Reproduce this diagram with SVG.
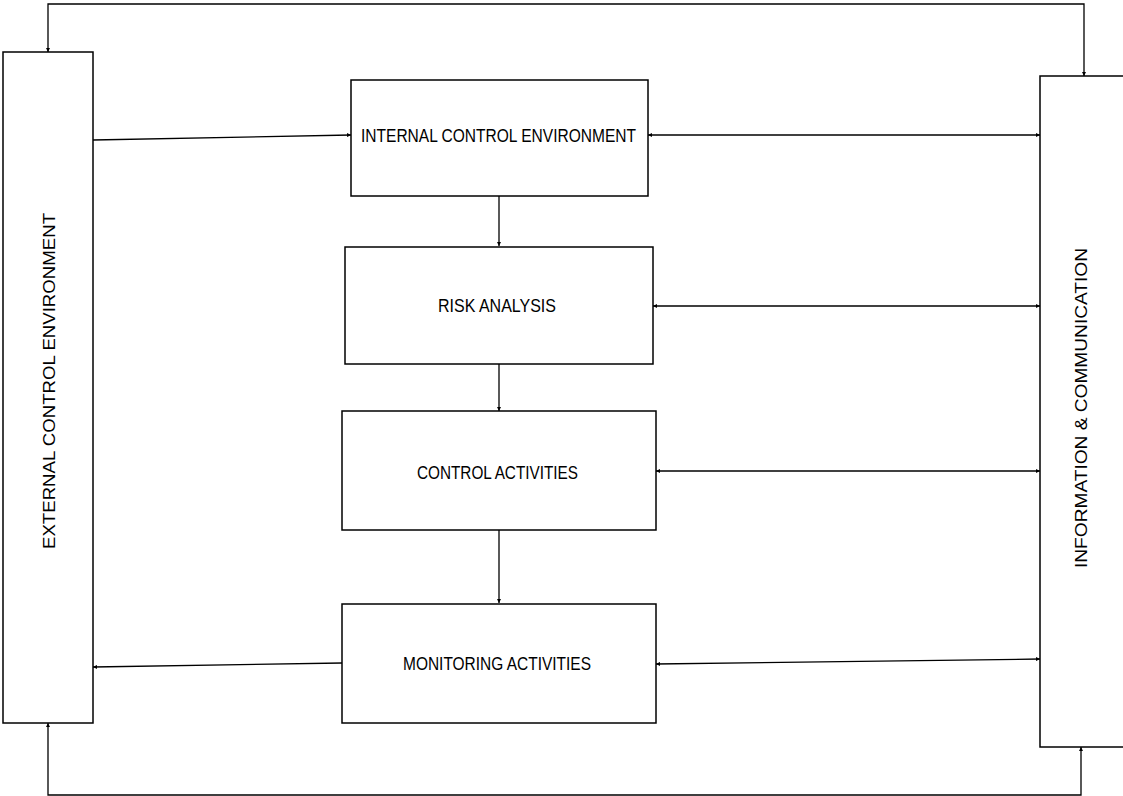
<svg xmlns="http://www.w3.org/2000/svg" width="1123" height="796" viewBox="0 0 1123 796">
<style>
.box{fill:#fff;stroke:#000;stroke-width:1.5}
.con{fill:none;stroke:#000;stroke-width:1.3}
.lbl{font-family:"Liberation Sans",Arial,sans-serif;font-size:18px;fill:#000;text-anchor:middle}
.vlbl{font-family:"Liberation Sans",Arial,sans-serif;font-size:17px;fill:#000;text-anchor:middle}
</style>
<defs>
<marker id="ah" viewBox="0 0 6 6" refX="6" refY="3" markerWidth="4" markerHeight="4" markerUnits="userSpaceOnUse" orient="auto-start-reverse">
<path d="M0,0 L6,3 L0,6 z" fill="#000"/>
</marker>
</defs>
<rect width="1123" height="796" fill="#fff"/>
<g id="connectors">
<polyline class="con" points="48,52 48,4 1084,4 1084,76" marker-start="url(#ah)" marker-end="url(#ah)"/>
<polyline class="con" points="48,723 48,795 1081,795 1081,747" marker-start="url(#ah)" marker-end="url(#ah)"/>
<line class="con" x1="93" y1="140" x2="351" y2="135" marker-end="url(#ah)"/>
<line class="con" x1="648" y1="135" x2="1040" y2="135" marker-start="url(#ah)" marker-end="url(#ah)"/>
<line class="con" x1="653" y1="306" x2="1040" y2="306" marker-start="url(#ah)" marker-end="url(#ah)"/>
<line class="con" x1="656" y1="471" x2="1040" y2="471" marker-start="url(#ah)" marker-end="url(#ah)"/>
<line class="con" x1="656" y1="664" x2="1040" y2="659" marker-start="url(#ah)" marker-end="url(#ah)"/>
<line class="con" x1="342" y1="663" x2="93" y2="667" marker-end="url(#ah)"/>
<line class="con" x1="499" y1="196" x2="499" y2="246" marker-end="url(#ah)"/>
<line class="con" x1="499" y1="364" x2="499" y2="411" marker-end="url(#ah)"/>
<line class="con" x1="499" y1="530" x2="499" y2="603" marker-end="url(#ah)"/>
</g>
<g id="external">
<rect class="box" x="3" y="52" width="90" height="671"/>
<text class="vlbl" transform="translate(55,381) rotate(-90)" textLength="336" lengthAdjust="spacingAndGlyphs">EXTERNAL CONTROL ENVIRONMENT</text>
</g>
<g id="information">
<rect class="box" x="1040" y="76" width="100" height="671"/>
<text class="vlbl" transform="translate(1087,408) rotate(-90)" textLength="320" lengthAdjust="spacingAndGlyphs">INFORMATION &amp; COMMUNICATION</text>
</g>
<g id="internal">
<rect class="box" x="351" y="80" width="297" height="116"/>
<text class="lbl" x="498.5" y="142" textLength="275" lengthAdjust="spacingAndGlyphs">INTERNAL CONTROL ENVIRONMENT</text>
</g>
<g id="risk">
<rect class="box" x="345" y="247" width="308" height="117"/>
<text class="lbl" x="497" y="312" textLength="118" lengthAdjust="spacingAndGlyphs">RISK ANALYSIS</text>
</g>
<g id="control">
<rect class="box" x="342" y="411" width="314" height="119"/>
<text class="lbl" x="497.5" y="479" textLength="161" lengthAdjust="spacingAndGlyphs">CONTROL ACTIVITIES</text>
</g>
<g id="monitoring">
<rect class="box" x="342" y="604" width="314" height="119"/>
<text class="lbl" x="497" y="670" textLength="188" lengthAdjust="spacingAndGlyphs">MONITORING ACTIVITIES</text>
</g>
</svg>
